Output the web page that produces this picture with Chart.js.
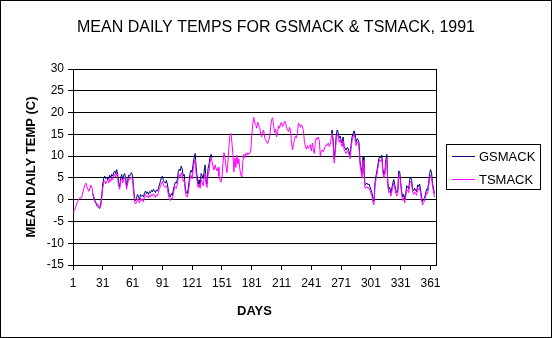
<!DOCTYPE html>
<html lang="en">
  <head>
    <meta charset="UTF-8" />
    <title>Mean Daily Temps 1991</title>
    <script src="https://cdn.jsdelivr.net/npm/chart.js"></script>
    <style>
      body { margin: 0; background: #fff; }
      canvas { display: block; }
    </style>
  </head>
  <body>
    <canvas id="tempChart" width="552" height="338"></canvas>

    <script>
      // day numbers 1..365 (category positions on the x axis)
      const days = Array.from({ length: 365 }, (_, i) => i + 1);
      const dayTicks = [1, 31, 61, 91, 121, 151, 181, 211, 241, 271, 301, 331, 361];
      const tempTicks = [-15, -10, -5, 0, 5, 10, 15, 20, 25, 30];

      // TSMACK, one value per day
      const tsmack = [
        -2.8, -2.5, -2.2, -1.5, -0.8, -0.3, 0.2, 0.4, 0.3, 0.8,
        1.8, 2.6, 3.4, 3.8, 3.0, 2.4, 1.9, 2.6, 3.3, 2.8,
        1.2, 0.2, -0.5, -0.8, -1.2, -1.0, -1.6, -1.9, -1.3, 0.5,
        2.8, 4.0, 4.4, 3.6, 4.2, 4.5, 3.8, 4.8, 4.2, 5.0,
        4.6, 5.5, 5.8, 5.2, 6.2, 5.0, 3.0, 2.4, 4.4, 4.8,
        3.8, 4.6, 5.2, 4.1, 2.4, 3.6, 4.8, 4.6, 5.0, 5.2,
        4.4, 2.0, -0.4, -1.0, -0.6, 0.2, -0.4, -0.8, 0.4, -0.3,
        0.2, -0.5, 0.8, 1.2, 0.6, 0.9, 0.4, 1.0, 0.6, 1.2,
        0.8, 1.4, 1.0, 0.5, 1.1, 0.9, 1.6, 2.4, 3.0, 3.6,
        4.2, 3.4, 3.0, 2.8, 3.2, 2.6, 1.2, 0.2, -0.2, 0.4,
        0.1, 1.2, 2.4, 3.0, 2.6, 3.4, 5.0, 5.8, 5.2, 6.2,
        5.6, 4.2, 4.6, 2.0, 0.8, 0.6, 1.4, 3.2, 5.0, 5.6,
        4.8, 7.0, 8.4, 9.2, 6.0, 4.2, 2.8, 3.6, 2.6, 4.6,
        4.0, 3.2, 4.8, 6.0, 3.4, 2.8, 5.8, 6.4, 8.6, 9.6,
        8.8, 7.6, 6.8, 8.0, 7.2, 6.6, 7.4, 5.4, 4.6, 4.0,
        5.2, 8.4, 10.8, 9.6, 7.6, 6.2, 8.6, 12.2, 14.6, 15.2,
        13.2, 10.4, 6.4, 9.6, 7.4, 10.2, 8.2, 9.4, 7.0, 5.6,
        5.2, 8.8, 10.4, 9.6, 10.6, 10.2, 10.8, 10.4, 10.6, 11.4,
        14.8, 17.2, 18.9, 17.6, 17.2, 16.4, 17.8, 17.0, 16.6, 15.0,
        14.4, 15.6, 16.0, 14.2, 13.8, 13.2, 12.9, 13.6, 14.4, 16.6,
        18.4, 18.8, 17.0, 15.4, 16.2, 14.4, 15.6, 17.0, 16.4, 17.4,
        17.8, 16.8, 17.2, 18.0, 17.8, 16.4, 16.0, 15.6, 16.6, 15.8,
        13.0, 11.4, 12.6, 13.8, 14.6, 14.2, 15.2, 17.6, 17.2, 16.6,
        17.2, 16.8, 15.8, 13.4, 12.2, 11.6, 12.4, 11.8, 12.2, 12.6,
        11.2, 13.0, 11.4, 10.6, 13.2, 14.2, 13.8, 14.4, 13.6, 10.0,
        11.2, 11.4, 11.0, 11.6, 12.2, 12.6, 12.4, 13.0, 12.2, 12.6,
        14.2, 15.2, 12.4, 8.4, 10.6, 13.6, 15.0, 14.6, 13.2, 13.8,
        12.8, 12.2, 13.6, 11.4, 11.0, 10.6, 11.2, 11.0, 10.2, 9.4,
        11.8, 13.6, 14.4, 15.0, 14.2, 12.4, 13.2, 13.0, 12.2, 8.0,
        6.6, 5.0, 9.0, 6.2, 2.6, 2.8, 3.0, 2.6, 2.8, 2.2,
        1.4, 0.8, -0.6, -1.2, 2.8, 4.6, 5.8, 7.2, 8.6, 9.2,
        8.8, 9.4, 6.2, 5.0, 5.6, 8.4, 9.6, 3.0, 1.6, 2.0,
        0.8, 1.8, 3.0, 3.8, 2.6, 1.4, 0.8, 1.2, 5.8, 5.6,
        3.2, 1.0, -0.2, 0.4, -0.7, 0.6, 2.4, 2.2, 1.6, 3.8,
        4.2, 3.6, 1.6, 1.2, 1.8, 1.4, 1.0, 2.6, 2.2, 2.8,
        1.4, -0.3, -1.2, -0.6, -0.4, 0.6, 1.6, 1.4, 2.8, 5.0,
        5.6, 5.2, 3.0, 1.8, 0.6
      ];

      // GSMACK, no readings for days 1-20 and 142-260
      const gsmackSpring = [
        1.4, 0.6, -0.2, -0.6, -1.4, -1.6, -1.8, -2.0, -0.8, 1.0,
        3.6, 5.0, 5.4, 4.8, 5.2, 4.6, 5.0, 5.6, 5.0, 5.8,
        5.4, 6.2, 6.6, 6.0, 6.9, 5.8, 3.6, 3.0, 5.0, 5.8,
        4.6, 5.6, 6.0, 5.0, 3.2, 4.4, 5.6, 5.4, 6.0, 6.2,
        5.4, 2.8, 0.2, -0.2, 0.4, 1.2, 0.6, 0.2, 1.2, 0.8,
        1.0, 0.6, 1.6, 2.0, 1.4, 1.8, 1.2, 1.8, 1.6, 2.2,
        1.8, 2.4, 2.0, 1.6, 2.2, 2.0, 2.6, 3.4, 4.2, 5.0,
        5.4, 4.4, 4.0, 3.8, 4.4, 3.6, 2.2, 1.0, 0.6, 1.4,
        1.0, 2.2, 3.2, 4.0, 3.8, 4.6, 6.4, 7.0, 6.6, 7.7,
        7.0, 5.4, 5.8, 2.8, 1.6, 1.4, 2.4, 4.4, 6.2, 6.8,
        6.2, 8.4, 9.6, 10.6, 7.4, 5.2, 3.6, 4.6, 3.2, 6.0,
        5.6, 4.8, 6.4, 8.0, 4.4, 3.6, 7.2, 8.2, 9.8, 10.4,
        9.6
      ];
      const gsmackAutumn = [
        15.2, 16.0, 13.4, 9.4, 11.6, 14.6, 16.0, 15.4, 14.2, 14.6,
        13.6, 13.0, 14.4, 12.2, 11.8, 11.4, 12.0, 11.8, 11.0, 10.2,
        12.6, 14.4, 15.2, 15.8, 15.0, 13.2, 14.0, 13.8, 13.0, 8.8,
        7.4, 5.8, 9.8, 7.0, 3.4, 3.6, 3.8, 3.4, 3.6, 3.0,
        2.2, 1.6, 0.2, -0.4, 3.6, 5.4, 6.6, 8.0, 9.4, 10.0,
        9.6, 10.2, 7.0, 5.8, 6.4, 9.2, 10.4, 3.8, 2.4, 2.8,
        1.6, 2.6, 3.8, 4.6, 3.4, 2.2, 1.6, 2.0, 6.6, 6.4,
        4.0, 1.8, 0.6, 1.2, 0.1, 1.4, 3.2, 3.0, 2.4, 4.6,
        5.2, 4.4, 2.4, 2.0, 2.6, 2.2, 1.8, 3.4, 3.0, 3.6,
        2.2, 0.5, -0.4, 0.2, 0.4, 1.4, 2.4, 2.2, 3.6, 5.8,
        6.9, 6.2, 3.8, 2.6, 1.4
      ];
      const gsmack = [].concat(
        Array(20).fill(null),
        gsmackSpring,
        Array(119).fill(null),
        gsmackAutumn
      );

      // white page + outer frame + legend box like the old spreadsheet chart
      const framePlugin = {
        id: "frame",
        beforeDraw(chart) {
          const ctx = chart.ctx;
          ctx.save();
          ctx.fillStyle = "#fff";
          ctx.fillRect(0, 0, chart.width, chart.height);
          ctx.restore();
        },
        afterDraw(chart) {
          const ctx = chart.ctx;
          ctx.save();
          ctx.strokeStyle = "#000";
          ctx.lineWidth = 1;
          ctx.strokeRect(0.5, 0.5, chart.width - 1, chart.height - 1);

          // legend
          const bx = 446.5, by = 144.5;
          ctx.strokeRect(bx, by, 94, 45);
          ctx.font = "13px 'Liberation Sans', Arial, sans-serif";
          ctx.textBaseline = "middle";
          ctx.fillStyle = "#000";
          const rows = [chart.data.datasets[0], chart.data.datasets[1]];
          rows.forEach((ds, i) => {
            const y = 156.5 + i * 23;
            ctx.strokeStyle = ds.borderColor;
            ctx.beginPath();
            ctx.moveTo(452, y);
            ctx.lineTo(475, y);
            ctx.stroke();
            ctx.fillText(ds.label, 479, y + 1);
          });
          ctx.restore();
        },
      };

      const font = "'Liberation Sans', Arial, sans-serif";

      new Chart(document.getElementById("tempChart"), {
        type: "line",
        data: {
          labels: days,
          datasets: [
            {
              label: "GSMACK",
              data: gsmack,
              borderColor: "#000080",
              borderWidth: 1,
              pointRadius: 0,
              tension: 0,
              order: 1,
            },
            {
              label: "TSMACK",
              data: tsmack,
              borderColor: "#ff00ff",
              borderWidth: 1,
              pointRadius: 0,
              tension: 0,
              order: 0,
            },
          ],
        },
        options: {
          responsive: false,
          animation: false,
          devicePixelRatio: 1,
          layout: { padding: 0 },
          plugins: {
            legend: { display: false },
            tooltip: { enabled: false },
            title: {
              display: true,
              text: "MEAN DAILY TEMPS FOR GSMACK & TSMACK, 1991",
              color: "#000",
              font: { family: font, size: 16, weight: "normal" },
              padding: { top: 18, bottom: 31.8 },
            },
          },
          scales: {
            x: {
              type: "linear",
              min: 1,
              max: 366.5,
              afterBuildTicks: (scale) => {
                scale.ticks = dayTicks.map((v) => ({ value: v }));
              },
              afterFit: (scale) => {
                scale.height = 73;
              },
              grid: {
                drawOnChartArea: false,
                color: "#000",
                tickLength: 5,
              },
              border: { color: "#000" },
              ticks: {
                color: "#000",
                font: { family: font, size: 12 },
                padding: 6,
                maxRotation: 0,
                autoSkip: false,
              },
              title: {
                display: true,
                text: "DAYS",
                color: "#000",
                font: { family: font, size: 13, weight: "bold" },
                padding: { top: 0, bottom: 19 },
              },
            },
            y: {
              min: -15,
              max: 30,
              afterBuildTicks: (scale) => {
                scale.ticks = tempTicks.map((v) => ({ value: v }));
              },
              afterFit: (scale) => {
                scale.width = 73;
              },
              grid: { color: "#000", tickLength: 5 },
              border: { color: "#000" },
              ticks: {
                color: "#000",
                font: { family: font, size: 12 },
                padding: 4,
              },
              title: {
                display: true,
                text: "MEAN DAILY TEMP (C)",
                color: "#000",
                font: { family: font, size: 13, weight: "bold" },
                padding: { top: 24, bottom: 0 },
              },
            },
            // empty right-hand axis: keeps room for the legend and closes the plot frame
            side: {
              position: "right",
              afterFit: (scale) => {
                scale.width = 116;
              },
              grid: { display: false },
              ticks: { display: false },
              border: { color: "#000" },
            },
          },
        },
        plugins: [framePlugin],
      });
    </script>
  </body>
</html>
